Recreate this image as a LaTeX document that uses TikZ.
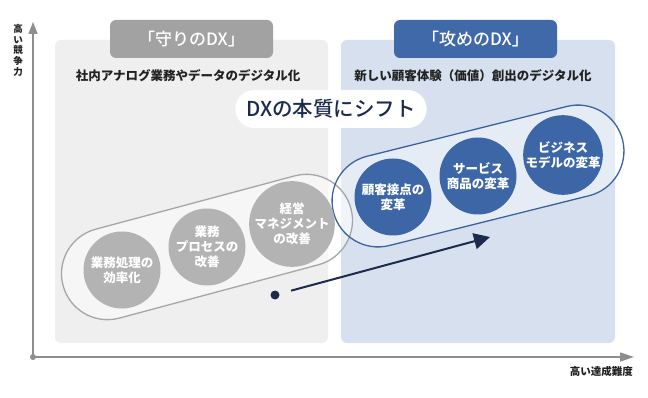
\documentclass[tikz,border=0pt]{standalone}
\usepackage{fontspec}
\setmainfont{Noto Sans CJK JP}
\newfontfamily\jpmed{Noto Sans CJK JP Medium}
\usetikzlibrary{shapes.misc,arrows.meta,calc}
\definecolor{graypanel}{HTML}{EFEFEF}
\definecolor{bluepanel}{HTML}{D6E0EF}
\definecolor{graytab}{HTML}{A2A2A2}
\definecolor{bluetab}{HTML}{4069AA}
\definecolor{graycirc}{HTML}{B3B3B3}
\definecolor{bluecirc}{HTML}{3D66A6}
\definecolor{grayline}{HTML}{A6A6A6}
\definecolor{blueline}{HTML}{3D62A0}
\definecolor{axiscol}{HTML}{8E8E8E}
\definecolor{navy}{HTML}{1C2B4B}
\definecolor{txt}{HTML}{222222}
\tikzset{
  tabbox/.style={rounded corners=6pt, draw=none},
  tabtext/.style={text=white, font=\jpmed\fontsize{17}{19}\selectfont},
  subtitle/.style={text=txt, font=\bfseries\fontsize{12.5}{14}\selectfont},
  capsule/.style={rounded rectangle, minimum width=298pt, minimum height=92pt, line width=1.3pt, inner sep=0pt},
  bubble/.style={circle, minimum size=77pt, inner sep=0pt, align=center, text=white, font=\bfseries\fontsize{12.5}{15}\selectfont},
  axislabel/.style={text=txt, font=\bfseries\fontsize{9.5}{10.8}\selectfont, align=center, inner sep=0pt},
}
\begin{document}
\begin{tikzpicture}[x=1pt,y=-1pt]
\useasboundingbox[fill=white] (0,0) rectangle (648,398);
% panels
\fill[graypanel, rounded corners=6pt] (55,40) rectangle (328,343);
\fill[bluepanel, rounded corners=6pt] (341,40) rectangle (615,343);
% tabs
\node[tabbox, fill=graytab, minimum width=163pt, minimum height=38pt, tabtext] (ltab) at (191.5,39) {「守りのDX」};
\node[tabbox, fill=bluetab, minimum width=163pt, minimum height=38pt, tabtext] (rtab) at (475.5,39) {「攻めのDX」};
% subtitles
\node[subtitle] (lsub) at (188,76) {社内アナログ業務やデータのデジタル化};
\node[subtitle] (rsub) at (473,76) {新しい顧客体験（価値）創出のデジタル化};
% pill
\node[rounded rectangle, fill=white, minimum width=198pt, minimum height=38pt, text=navy, font=\jpmed\fontsize{20.5}{22}\selectfont] (pill) at (331,109) {DXの本質にシフト};
% capsules fill
\node[capsule, fill=white, fill opacity=0.45, rotate=15] (lcap) at (207,247) {};
\node[capsule, fill=white, fill opacity=0.4, rotate=14] (rcap) at (478,176) {};
% capsule outlines
\node[capsule, draw=grayline, rotate=15] (lcapo) at (207,247) {};
\node[capsule, draw=blueline, rotate=14] (rcapo) at (478,176) {};
% bubbles
\node[bubble, fill=graycirc] (c1) at (122,270) {業務処理の\\効率化};
\node[bubble, fill=graycirc] (c2) at (207,247) {業務\\プロセスの\\改善};
\node[bubble, fill=graycirc] (c3) at (292,224) {経営\\マネジメント\\の改善};
\node[bubble, fill=bluecirc] (b1) at (393,197) {顧客接点の\\変革};
\node[bubble, fill=bluecirc] (b2) at (478,176) {サービス\\商品の変革};
\node[bubble, fill=bluecirc] (b3) at (563,155) {ビジネス\\モデルの変革};
% shift arrow
\node[circle, fill=navy, minimum size=9pt, inner sep=0pt] (dot) at (275,295) {};
\coordinate (tip) at (490,237);
\draw[navy, line width=2pt, shorten <=12pt, -{Triangle[length=16pt,width=16pt]}] (dot) -- (tip);
% axes
\node[circle, fill=axiscol, minimum size=6pt, inner sep=0pt] (origin) at (33,357) {};
\coordinate (ytop) at (33,22);
\coordinate (xend) at (634,357);
\draw[axiscol, line width=1.6pt, -{Triangle[length=12pt,width=9pt]}] (origin.center) -- (ytop);
\draw[axiscol, line width=1.6pt, -{Triangle[length=14pt,width=9pt]}] (origin.center) -- (xend);
\node[axislabel, anchor=north] (ylab) at (18,24) {高\\い\\競\\争\\力};
\node[axislabel, anchor=east, font=\bfseries\fontsize{10.5}{12}\selectfont] (xlab) at (633,371) {高い達成難度};
\end{tikzpicture}
\end{document}
